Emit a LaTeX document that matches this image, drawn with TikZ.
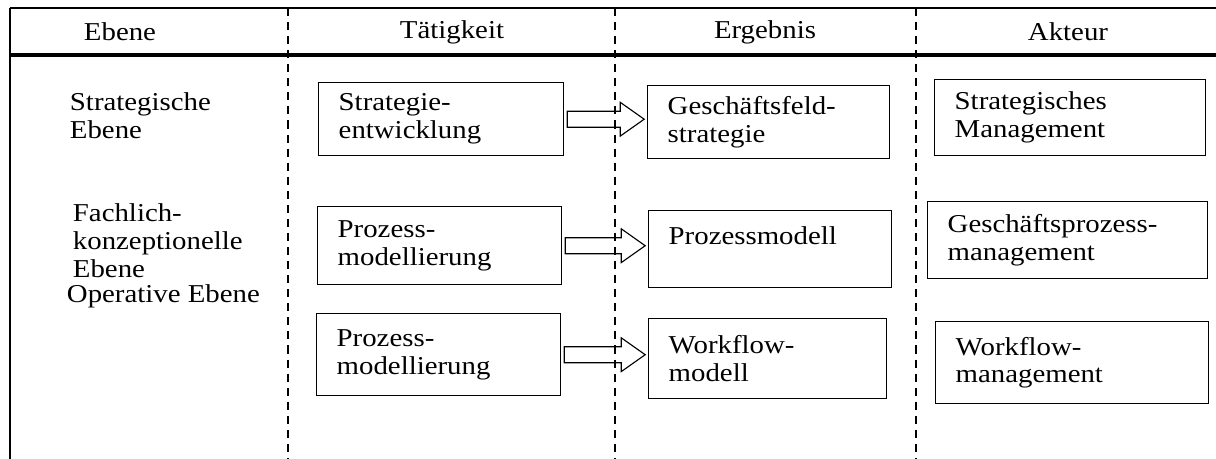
\documentclass[tikz,border=0pt]{standalone}
\usepackage{fontspec}
\setmainfont[FakeStretch=1.12]{Liberation Serif}
\usetikzlibrary{calc}

\tikzset{
  kasten/.style={draw, line width=1pt, anchor=north west, align=left,
    inner xsep=0.5cm, inner ysep=0pt},
  spalte/.style={line width=1.4pt, dash pattern=on 5.7pt off 4.3pt},
  pfeil/.style={draw, line width=0.8pt, to path={let \p1=(\tikztostart), \p2=(\tikztotarget) in
    (\x1+2pt,\y1+5.7pt) -- (\x2-19pt,\y1+5.7pt) -- (\x2-19pt,\y1+12pt) -- (\x2-2pt,\y1)
    -- (\x2-19pt,\y1-12pt) -- (\x2-19pt,\y1-5.7pt) -- (\x1+2pt,\y1-5.7pt) -- cycle}},
}

\begin{document}
\begin{tikzpicture}[x=0.025cm, y=-0.025cm, font=\fontsize{18.3pt}{19.9pt}\selectfont]
  \useasboundingbox (0,0) rectangle (1216,459);

  % Rahmen und Spalten
  \draw[line width=1.2pt] (10,8) -- (1216,8);
  \draw[line width=2.4pt] (10,55) -- (1216,55);
  \draw[line width=2pt] (10,8) -- (10,459);
  \draw[spalte] (288,8) -- (288,459);
  \draw[spalte] (615,8) -- (615,459);
  \draw[spalte] (916,8) -- (916,459);

  % Kopfzeile
  \node (hEbene) at (120,32) {Ebene};
  \node (hTaet) at (452,32) {Tätigkeit};
  \node (hErg) at (765,32) {Ergebnis};
  \node (hAkt) at (1068,32) {Akteur};

  % Ebenen
  \node[anchor=west, align=left] (lStrat) at (65,116) {Strategische\\Ebene};
  \node[anchor=west, align=left] (lFach) at (68,241) {Fachlich-\\konzeptionelle\\Ebene};
  \node[anchor=west, align=left] (lOper) at (62,296) {Operative Ebene};

  % strategische Ebene
  \node[kasten, text width=5.125cm, minimum height=1.825cm] (t1) at (318,82) {Strategie-\\entwicklung};
  \node[kasten, text width=5.05cm, minimum height=1.825cm] (e1) at (647,85) {Geschäftsfeld-\\strategie};
  \node[kasten, text width=5.775cm, minimum height=1.9cm] (a1) at (934,79) {Strategisches\\Management};

  % fachlich-konzeptionelle Ebene
  \node[kasten, text width=5.1cm, minimum height=1.95cm] (t2) at (317,206) {Prozess-\\modellierung};
  \node[kasten, text width=5.075cm, minimum height=1.925cm] (e2) at (648,210) {Prozessmodell\\\phantom{x}};
  \node[kasten, text width=6cm, minimum height=1.925cm] (a2) at (927,201) {Geschäftsprozess-\\management};

  % operative Ebene
  \node[kasten, text width=5.1cm, minimum height=2.05cm] (t3) at (316,313) {Prozess-\\modellierung};
  \node[kasten, text width=4.95cm, minimum height=2cm] (e3) at (648,318) {Workflow-\\modell};
  \node[kasten, text width=5.825cm, minimum height=2.05cm] (a3) at (935,321) {Workflow-\\management};

  \draw[pfeil] (t1.east) to (e1.west);
  \draw[pfeil] (t2.east) to (e2.west);
  \draw[pfeil] (t3.east) to (e3.west);
\end{tikzpicture}
\end{document}
